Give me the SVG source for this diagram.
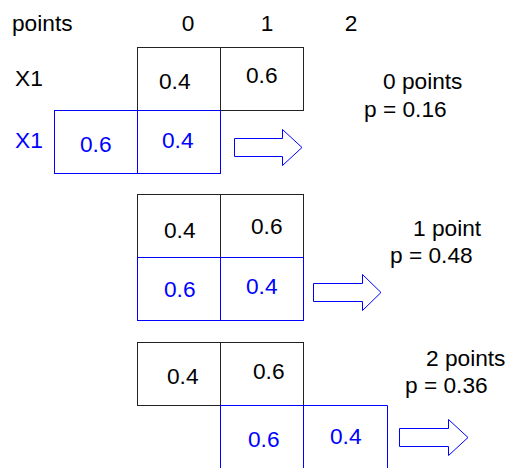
<svg xmlns="http://www.w3.org/2000/svg" width="508" height="468" viewBox="0 0 508 468">
  <style>
    text { font-family: "Liberation Sans", Arial, sans-serif; font-size: 22.7px; fill: #000; }
    text.b { fill: #0000ff; }
    .cellk { fill: none; stroke: #222; stroke-width: 1; }
    .cellb { fill: none; stroke: #0000ff; stroke-width: 1; }
    .arrow { fill: #fff; stroke: #0000ff; stroke-width: 1; }
  </style>
  <rect width="508" height="468" fill="#fff"/>

  <!-- header row -->
  <g id="header">
    <text x="12" y="31">points</text>
    <text x="188" y="31" text-anchor="middle">0</text>
    <text x="267" y="31" text-anchor="middle">1</text>
    <text x="351" y="31" text-anchor="middle">2</text>
  </g>

  <!-- case 1: 0 points -->
  <g id="case0">
    <text x="15" y="86">X1</text>
    <text class="b" x="15" y="148">X1</text>
    <rect class="cellk" x="137.5" y="47.5" width="83" height="63"/>
    <rect class="cellk" x="220.5" y="47.5" width="83" height="63"/>
    <rect class="cellb" x="54.5" y="110.5" width="83" height="63"/>
    <rect class="cellb" x="137.5" y="110.5" width="83" height="63"/>
    <text x="159" y="89">0.4</text>
    <text x="246" y="83">0.6</text>
    <text class="b" x="80" y="152">0.6</text>
    <text class="b" x="162" y="148">0.4</text>
    <text x="383" y="89">0 points</text>
    <text x="364" y="117">p = 0.16</text>
  </g>

  <!-- case 2: 1 point -->
  <g id="case1">
    <rect class="cellk" x="137.5" y="194.5" width="83" height="63"/>
    <rect class="cellk" x="220.5" y="194.5" width="83" height="63"/>
    <rect class="cellb" x="137.5" y="257.5" width="83" height="63"/>
    <rect class="cellb" x="220.5" y="257.5" width="83" height="63"/>
    <text x="164" y="238">0.4</text>
    <text x="251" y="234">0.6</text>
    <text class="b" x="164" y="297">0.6</text>
    <text class="b" x="246" y="294">0.4</text>
    <text x="413" y="236">1 point</text>
    <text x="390" y="263">p = 0.48</text>
  </g>

  <!-- case 3: 2 points -->
  <g id="case2">
    <rect class="cellk" x="137.5" y="342.5" width="83" height="63"/>
    <rect class="cellk" x="220.5" y="342.5" width="83" height="63"/>
    <path class="cellb" d="M220.5 470 V405.5 H387.5 V470 M303.5 405.5 V470"/>
    <text x="167" y="384">0.4</text>
    <text x="253" y="379">0.6</text>
    <text class="b" x="248" y="447">0.6</text>
    <text class="b" x="330" y="444">0.4</text>
    <text x="426" y="366">2 points</text>
    <text x="405" y="393">p = 0.36</text>
  </g>

  <!-- block arrows -->
  <g id="connectors">
    <path class="arrow" d="M234.5 138.5 H282.5 V129.5 L302 147.5 L282.5 165.5 V156.5 H234.5 Z"/>
    <path class="arrow" d="M313.5 283.5 H362.5 V274.5 L381 292.5 L362.5 310.5 V301.5 H313.5 Z"/>
    <path class="arrow" d="M399.5 428.5 H448.5 V419.5 L468 437.5 L448.5 455.5 V446.5 H399.5 Z"/>
  </g>
</svg>
